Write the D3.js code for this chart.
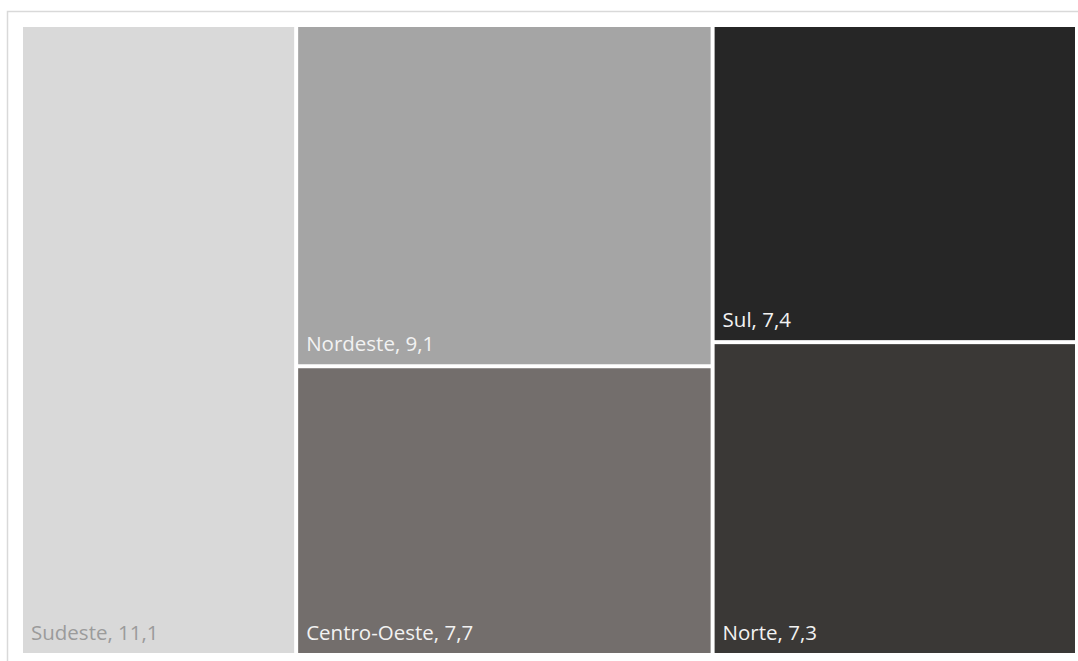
<!DOCTYPE html>
<html>
<head>
<meta charset="utf-8">
<script src="https://cdn.jsdelivr.net/npm/d3@7"></script>
<style>
  body { margin: 0; background: #fff; }
  svg { display: block; }
  .lbl { font-family: "Segoe UI", "Open Sans", sans-serif; font-size: 20.5px; }
</style>
</head>
<body>
<div id="chart"></div>
<script>
// Treemap data
var regions = ["Sudeste", "Nordeste", "Centro-Oeste", "Sul", "Norte"],
  values = [11.1, 9.1, 7.7, 7.4, 7.3],
  columns = [0, 1, 1, 2, 2];

var fills = ["#d9d9d9", "#a5a5a5", "#736e6c", "#262626", "#3a3836"],
  textFills = ["#9b9b9b", "#f2f2f2", "#f2f2f2", "#f2f2f2", "#f2f2f2"];

// Placement
var width = 1078,
  height = 661,
  mLeft = 23,
  mTop = 27,
  plotW = 1075 - mLeft,
  plotH = 653 - mTop;

var svg = d3.select("#chart")
  .append("svg")
  .attr("width", width)
  .attr("height", height);

// chart frame
svg.append("rect")
  .attr("x", 7.5)
  .attr("y", 11.5)
  .attr("width", width)
  .attr("height", height)
  .attr("fill", "none")
  .attr("stroke", "#d9d9d9")
  .attr("stroke-width", 1.5);

// group leaves into columns, then slice & dice
var colIds = Array.from(new Set(columns));
var tree = {
  children: colIds.map(function(c) {
    return {
      children: regions.map(function(r, i) { return {name: r, value: values[i], idx: i}; })
        .filter(function(d) { return columns[d.idx] === c; })
    };
  })
};

var root = d3.hierarchy(tree).sum(function(d) { return d.value || 0; });

d3.treemap()
  .tile(d3.treemapSliceDice)
  .size([plotW, plotH])
  .paddingInner(4)
  .round(false)(root);

var g = svg.append("g")
  .attr("transform", "translate(" + mLeft + "," + mTop + ")");

var leaf = g.selectAll("g.leaf")
  .data(root.leaves())
  .enter().append("g")
  .attr("class", "leaf");

leaf.append("rect")
  .attr("x", function(d) { return d.x0; })
  .attr("y", function(d) { return d.y0; })
  .attr("width", function(d) { return d.x1 - d.x0; })
  .attr("height", function(d) { return d.y1 - d.y0; })
  .attr("fill", function(d) { return fills[d.data.idx]; });

leaf.append("text")
  .attr("class", "lbl")
  .attr("x", function(d) { return d.x0 + 8; })
  .attr("y", function(d) { return d.y1 - 13; })
  .attr("fill", function(d) { return textFills[d.data.idx]; })
  .text(function(d) { return d.data.name + ", " + d3.format(".1f")(d.data.value).replace(".", ","); });
</script>
</body>
</html>
